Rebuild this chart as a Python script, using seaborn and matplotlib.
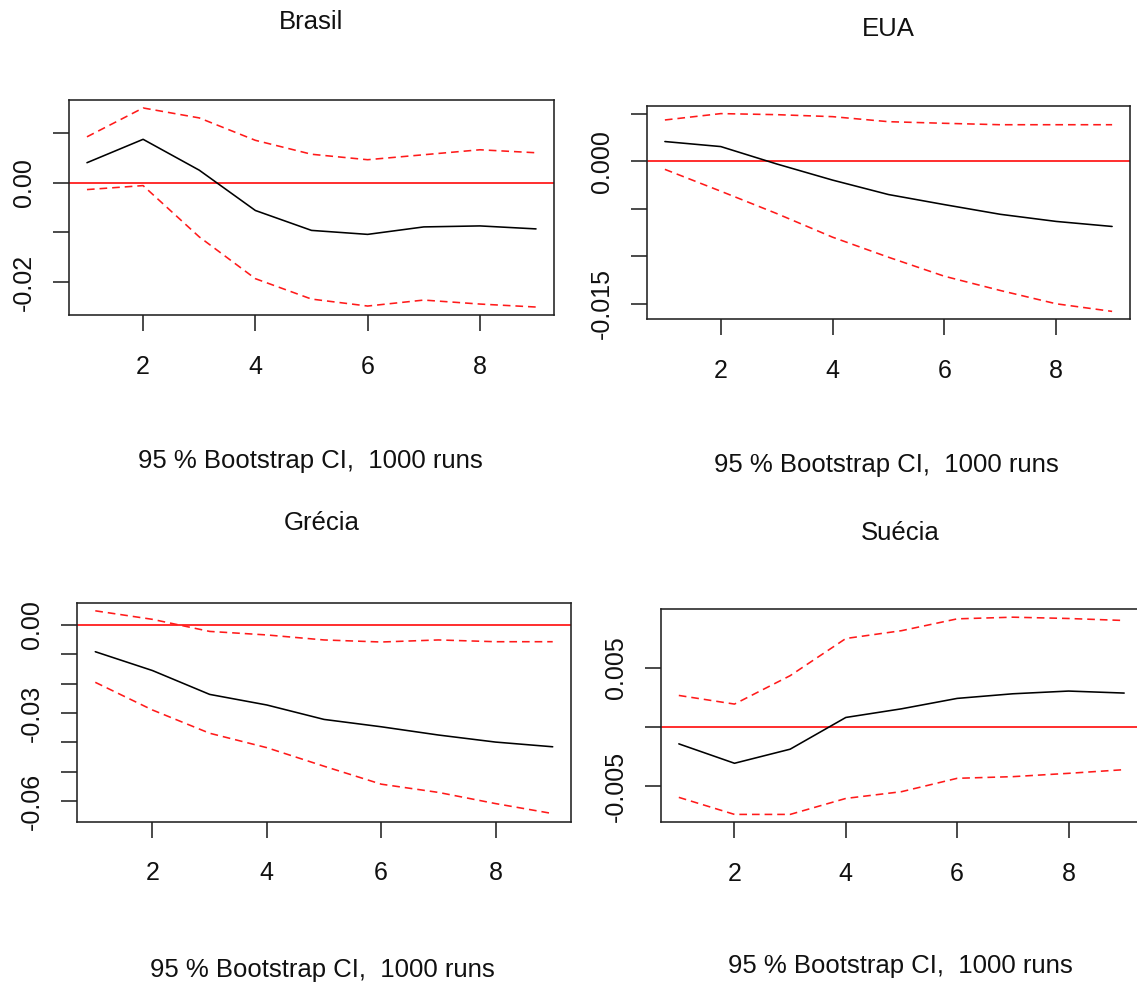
import numpy as np
import pandas as pd
import matplotlib
matplotlib.use("Agg")
import matplotlib.pyplot as plt
import seaborn as sns

# ---------------- data ----------------
horizon = [1, 2, 3, 4, 5, 6, 7, 8, 9]
countries = ["Brasil", "EUA", "Grécia", "Suécia"]
subtitle = "95 % Bootstrap CI,  1000 runs"

brasil_irf = [0.0040, 0.0087, 0.0025, -0.0056, -0.0096, -0.0104, -0.0089, -0.0087, -0.0093]
brasil_upper = [0.0092, 0.0150, 0.0130, 0.0085, 0.0057, 0.0046, 0.0056, 0.0066, 0.0060]
brasil_lower = [-0.0014, -0.0006, -0.0109, -0.0193, -0.0234, -0.0248, -0.0236, -0.0244, -0.0250]

eua_irf = [0.00208, 0.00155, -0.00028, -0.00198, -0.00350, -0.00456, -0.00558, -0.00633, -0.00686]
eua_upper = [0.00435, 0.00502, 0.00491, 0.00470, 0.00417, 0.00400, 0.00385, 0.00385, 0.00385]
eua_lower = [-0.00085, -0.00315, -0.00550, -0.00799, -0.01010, -0.01210, -0.01360, -0.01500, -0.01580]

grecia_irf = [-0.0092, -0.0156, -0.0237, -0.0273, -0.0322, -0.0347, -0.0375, -0.0399, -0.0415]
grecia_upper = [0.0047, 0.0018, -0.0023, -0.0035, -0.0052, -0.0059, -0.0052, -0.0058, -0.0058]
grecia_lower = [-0.0196, -0.0290, -0.0369, -0.0418, -0.0481, -0.0542, -0.0570, -0.0608, -0.0642]

suecia_irf = [-0.00141, -0.00305, -0.00186, 0.00082, 0.00155, 0.00243, 0.00282, 0.00305, 0.00288]
suecia_upper = [0.00268, 0.00195, 0.00435, 0.00749, 0.00815, 0.00915, 0.00929, 0.00918, 0.00901]
suecia_lower = [-0.00593, -0.00737, -0.00737, -0.00602, -0.00545, -0.00432, -0.00418, -0.00390, -0.00359]

x_ticks = [2, 4, 6, 8]
x_ticklabels = ["2", "4", "6", "8"]

brasil_yticks = [0.01, 0.0, -0.01, -0.02]
brasil_yticklabels = ["", "0.00", "", "-0.02"]
eua_yticks = [0.005, 0.0, -0.005, -0.010, -0.015]
eua_yticklabels = ["", "0.000", "", "", "-0.015"]
grecia_yticks = [0.0, -0.01, -0.02, -0.03, -0.04, -0.05, -0.06]
grecia_yticklabels = ["0.00", "", "", "-0.03", "", "", "-0.06"]
suecia_yticks = [0.005, 0.0, -0.005]
suecia_yticklabels = ["0.005", "", "-0.005"]

series = {
    "Brasil": (brasil_irf, brasil_upper, brasil_lower, brasil_yticks, brasil_yticklabels),
    "EUA": (eua_irf, eua_upper, eua_lower, eua_yticks, eua_yticklabels),
    "Grécia": (grecia_irf, grecia_upper, grecia_lower, grecia_yticks, grecia_yticklabels),
    "Suécia": (suecia_irf, suecia_upper, suecia_lower, suecia_yticks, suecia_yticklabels),
}

# ---------------- layout (pixels) ----------------
W, H = 1137, 982
# left, right, top, bottom of each plot box
boxes = {
    "Brasil": (69, 554, 100, 315),
    "EUA": (647, 1130, 105.7, 319.3),
    "Grécia": (77, 571, 602.7, 821.7),
    "Suécia": (661, 1142, 609.3, 822.3),
}
title_pos = {
    "Brasil": (311, 29),
    "EUA": (888, 36),
    "Grécia": (322, 530),
    "Suécia": (900, 540),
}
sub_pos = {
    "Brasil": (310, 468),
    "EUA": (886, 472),
    "Grécia": (322, 977),
    "Suécia": (900, 973),
}

sns.set_style("white")
plt.rcParams["font.family"] = ["Liberation Sans", "DejaVu Sans"]

fig = plt.figure(figsize=(W / 100, H / 100), dpi=100)
text_color = "#111111"
box_color = "#222222"
LW = 1.15
DASH = (0, (4.8, 3.1))

for name in countries:
    irf, up, lo, yt, ytl = series[name]
    l, r, t, b = boxes[name]
    ax = fig.add_axes([l / W, 1 - b / H, (r - l) / W, (b - t) / H])
    df = pd.DataFrame({"h": horizon, "irf": irf, "upper": up, "lower": lo})
    ax.axhline(0, color="#ff0000", lw=LW, zorder=1)
    sns.lineplot(data=df, x="h", y="upper", ax=ax, color="#ff1a1a", lw=LW,
                 linestyle=DASH, zorder=2)
    sns.lineplot(data=df, x="h", y="lower", ax=ax, color="#ff1a1a", lw=LW,
                 linestyle=DASH, zorder=2)
    sns.lineplot(data=df, x="h", y="irf", ax=ax, color="black", lw=LW, zorder=3)

    xmin, xmax = min(horizon), max(horizon)
    xpad = 0.04 * (xmax - xmin)
    ax.set_xlim(xmin - xpad, xmax + xpad)
    ymin, ymax = min(lo), max(up)
    ypad = 0.04 * (ymax - ymin)
    ax.set_ylim(ymin - ypad, ymax + ypad)

    ax.set_xticks(x_ticks)
    ax.set_xticklabels(x_ticklabels)
    ax.set_yticks(yt)
    ax.set_yticklabels(ytl)
    ax.set_xlabel("")
    ax.set_ylabel("")
    ax.tick_params(axis="both", direction="out", length=11.5, width=1.15,
                   color=box_color, labelsize=18, labelcolor=text_color,
                   left=True, bottom=True)
    ax.tick_params(axis="x", pad=17)
    ax.tick_params(axis="y", pad=12.5)
    for lab in ax.get_yticklabels():
        lab.set_rotation(90)
        lab.set_va("center")
        lab.set_ha("right")
    for sp in ax.spines.values():
        sp.set_visible(True)
        sp.set_color(box_color)
        sp.set_linewidth(1.15)
    ax.grid(False)

    tx, ty = title_pos[name]
    fig.text(tx / W, 1 - ty / H, name, ha="center", va="baseline",
             fontsize=18.5, color=text_color)
    sx, sy = sub_pos[name]
    fig.text(sx / W, 1 - sy / H, subtitle, ha="center", va="baseline",
             fontsize=18.5, color=text_color)

fig.savefig("out.png", dpi=100, facecolor="white")
